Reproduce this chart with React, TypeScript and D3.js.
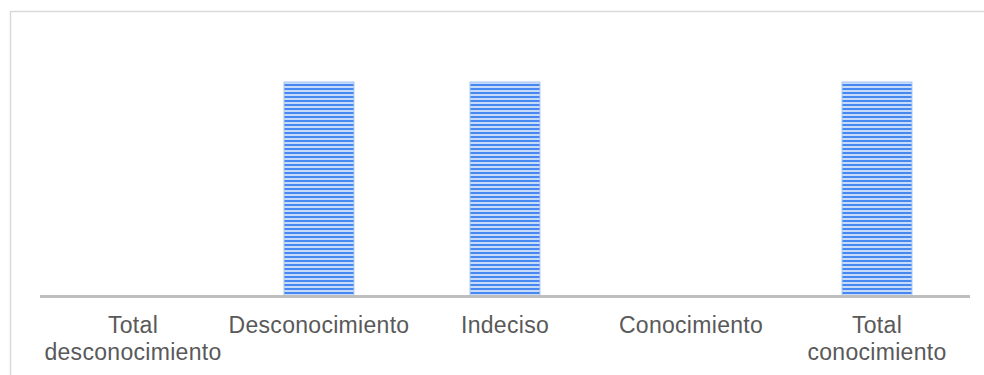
import React from "react";
import * as d3 from "d3";

const categories = ["Total\ndesconocimiento", "Desconocimiento", "Indeciso", "Conocimiento", "Total\nconocimiento"];
const values = [0, 1, 1, 0, 1];

export default function App() {
  const W = 984, H = 375;
  const plotLeft = 40, plotRight = 970, axisY = 296;
  const x = d3.scaleBand<string>().domain(categories).range([plotLeft, plotRight]).paddingInner(0.624).paddingOuter(0.312);
  const y = d3.scaleLinear().domain([0, 1]).range([axisY, 82]);
  return (
    <svg width={W} height={H} style={{ position: "absolute", left: 0, top: 0 }}>
      <defs>
        <pattern id="hstripe" patternUnits="userSpaceOnUse" width="8" height="4">
          <rect x="0" y="0" width="8" height="4" fill="#c6daf9" />
          <rect x="0" y="0" width="8" height="2" fill="#4687f0" />
        </pattern>
      </defs>
      <rect x={0} y={0} width={W} height={H} fill="#fff" />
      <rect x={10.5} y={11.5} width={W + 10} height={H + 10} fill="none" stroke="#d9d9d9" strokeWidth={1.5} />
      {categories.map((c, i) => values[i] > 0 ? (
        <rect key={c} x={x(c)!} y={y(values[i])} width={x.bandwidth()} height={axisY - y(values[i])}
          fill="url(#hstripe)" stroke="#a9c5f4" strokeWidth={1} />
      ) : null)}
      <line x1={plotLeft} x2={plotRight} y1={axisY + 0.5} y2={axisY + 0.5} stroke="#bfbfbf" strokeWidth={3} />
      {categories.map((c) => {
        const cx = x(c)! + x.bandwidth() / 2;
        return (
          <text key={c} x={cx} y={333} textAnchor="middle" fontFamily="'Liberation Sans', Arial, sans-serif" fontSize={23} letterSpacing={0.3} fill="#595959">
            {c.split("\n").map((line, j) => (
              <tspan key={j} x={cx} dy={j === 0 ? 0 : 27}>{line}</tspan>
            ))}
          </text>
        );
      })}
    </svg>
  );
}
